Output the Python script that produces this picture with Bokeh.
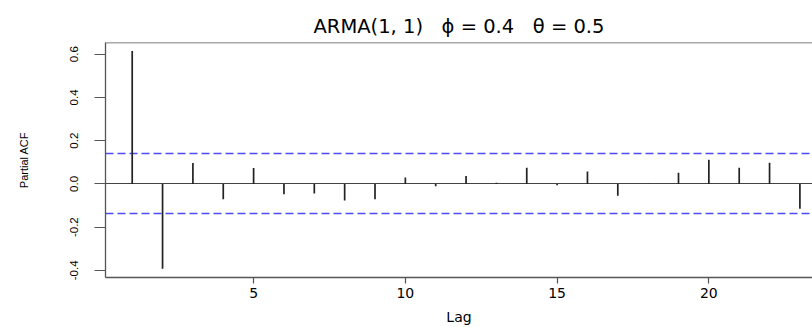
from bokeh.plotting import figure
from bokeh.models import Span, Range1d, FixedTicker, NumeralTickFormatter
from bokeh.embed import file_html
from bokeh.resources import INLINE

NB = "\u00a0"
title_text = "ARMA(1, 1)" + NB * 3 + "\u03d5" + NB + "=" + NB + "0.4" + NB * 3 + "\u03b8" + NB + "=" + NB + "0.5"
lags = list(range(1, 24))
pacf = [0.615, -0.392, 0.097, -0.071, 0.074, -0.048, -0.045, -0.077, -0.071, 0.029,
        -0.011, 0.037, 0.005, 0.075, -0.006, 0.057, -0.055, 0.001, 0.052, 0.112,
        0.075, 0.098, -0.115]
conf_limit = 0.1386
x_ticks = [5, 10, 15, 20]
y_ticks = [-0.4, -0.2, 0.0, 0.2, 0.4, 0.6]

y_lo, y_hi = -0.433, 0.654

p = figure(width=812, height=327, output_backend="svg", toolbar_location=None,
           x_range=Range1d(0.12, 23.415), y_range=Range1d(y_lo, y_hi),
           min_border_left=105, min_border_right=0, min_border_top=42,
           min_border_bottom=50, x_axis_label="Lag", y_axis_label="Partial ACF")

p.title.text = title_text
p.title.align = "center"
p.title.text_font = "DejaVu Sans"
p.title.text_font_size = "19.5px"
p.title.text_font_style = "normal"
p.title.text_color = "#000000"
p.title.offset = 22

p.outline_line_color = None
p.xgrid.visible = False
p.ygrid.visible = False
p.background_fill_color = "white"
p.border_fill_color = "white"

axis_col = "#555555"
for ax in (p.xaxis[0], p.yaxis[0]):
    ax.axis_line_color = axis_col
    ax.axis_line_width = 1.3
    ax.major_tick_line_color = axis_col
    ax.major_tick_line_width = 1.2
    ax.minor_tick_line_color = None
    ax.major_tick_in = 0
    ax.major_label_text_color = "#000000"
    ax.axis_label_text_color = "#000000"
    ax.axis_label_text_font_style = "normal"

p.xaxis.ticker = FixedTicker(ticks=x_ticks)
p.xaxis.major_tick_out = 6
p.xaxis.major_label_standoff = 4
p.xaxis.major_label_text_font = "DejaVu Sans"
p.xaxis.major_label_text_font_size = "14px"
p.xaxis.axis_label_text_font = "DejaVu Sans"
p.xaxis.axis_label_text_font_size = "14px"
p.xaxis.axis_label_standoff = 8

p.yaxis.ticker = FixedTicker(ticks=y_ticks)
p.yaxis.formatter = NumeralTickFormatter(format="0.0")
p.yaxis.major_label_orientation = "vertical"
p.yaxis.major_tick_out = 11
p.yaxis.major_label_standoff = 16
p.yaxis.major_label_text_font = "Liberation Sans"
p.yaxis.major_label_text_font_size = "11.5px"
p.yaxis.axis_label_text_font = "Liberation Sans"
p.yaxis.axis_label_text_font_size = "11px"
p.yaxis.axis_label_standoff = 38

# top border of the box (right side is cut off in the reference)
p.add_layout(Span(location=y_hi, dimension="width", line_color=axis_col, line_width=1.5))

# zero line
p.hspan(y=[0], line_color="#444444", line_width=1.2)
# confidence limits
p.hspan(y=[conf_limit, -conf_limit], line_color="#4d4df5", line_width=1.4,
        line_dash="8 4")

p.segment(x0=lags, y0=[0] * len(lags), x1=lags, y1=pacf,
          line_color="#222222", line_width=1.7)

open("out.html", "w").write(file_html(p, INLINE))
